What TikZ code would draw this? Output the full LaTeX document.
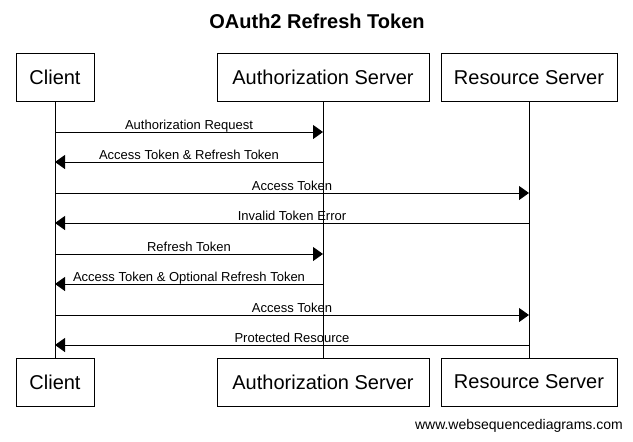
\documentclass[tikz,border=0pt]{standalone}
\usepackage{fontspec}
\setmainfont{Liberation Sans}
\usetikzlibrary{arrows.meta}

\begin{document}
\begin{tikzpicture}[x=1pt,y=-1pt,>={Triangle[length=10pt,width=14pt]},
    actor/.style={shape=rectangle,draw=black,line width=0.9pt,minimum height=48pt,inner sep=0pt,font=\fontsize{20}{24}\selectfont},
    msg/.style={->,line width=0.9pt},
    lbl/.style={anchor=base,yshift=3pt,inner sep=0pt,font=\fontsize{13}{15}\selectfont}]
    \useasboundingbox (0,0) rectangle (633,442);
    \node[anchor=base,font=\bfseries\fontsize{20}{24}\selectfont] (title) at (317,28) {OAuth2 Refresh Token};
    % participants
    \node[actor,minimum width=78pt] (0) at (55,77.5) {Client};
    \node[actor,minimum width=212pt] (1) at (323,77.5) {Authorization Server};
    \node[actor,minimum width=176pt] (2) at (529,77.5) {Resource Server};
    \node[actor,minimum width=78pt] (3) at (55,382) {Client};
    \node[actor,minimum width=212pt] (4) at (323,382) {Authorization Server};
    \node[actor,minimum width=176pt] (5) at (529,382) {Resource Server};
    \path[-,line width=0.9pt](0) edge (3);
    \path[-,line width=0.9pt](1) edge (4);
    \path[-,line width=0.9pt](2) edge (5);
    % message rows
    \coordinate (m1) at (0,132);
    \coordinate (m2) at (0,162);
    \coordinate (m3) at (0,193);
    \coordinate (m4) at (0,223);
    \coordinate (m5) at (0,254);
    \coordinate (m6) at (0,284);
    \coordinate (m7) at (0,315);
    \coordinate (m8) at (0,345);
    \path (0 |- m1) edge[msg] node[lbl] {Authorization Request} (1 |- m1);
    \path (1 |- m2) edge[msg] node[lbl] {Access Token \& Refresh Token} (0 |- m2);
    \path (0 |- m3) edge[msg] node[lbl] {Access Token} (2 |- m3);
    \path (2 |- m4) edge[msg] node[lbl] {Invalid Token Error} (0 |- m4);
    \path (0 |- m5) edge[msg] node[lbl] {Refresh Token} (1 |- m5);
    \path (1 |- m6) edge[msg] node[lbl] {Access Token \& Optional Refresh Token} (0 |- m6);
    \path (0 |- m7) edge[msg] node[lbl] {Access Token} (2 |- m7);
    \path (2 |- m8) edge[msg] node[lbl] {Protected Resource} (0 |- m8);
    \node[anchor=base east,inner sep=0pt,font=\fontsize{14}{16}\selectfont] (site) at (623,429) {www.websequencediagrams.com};
\end{tikzpicture}
\end{document}
